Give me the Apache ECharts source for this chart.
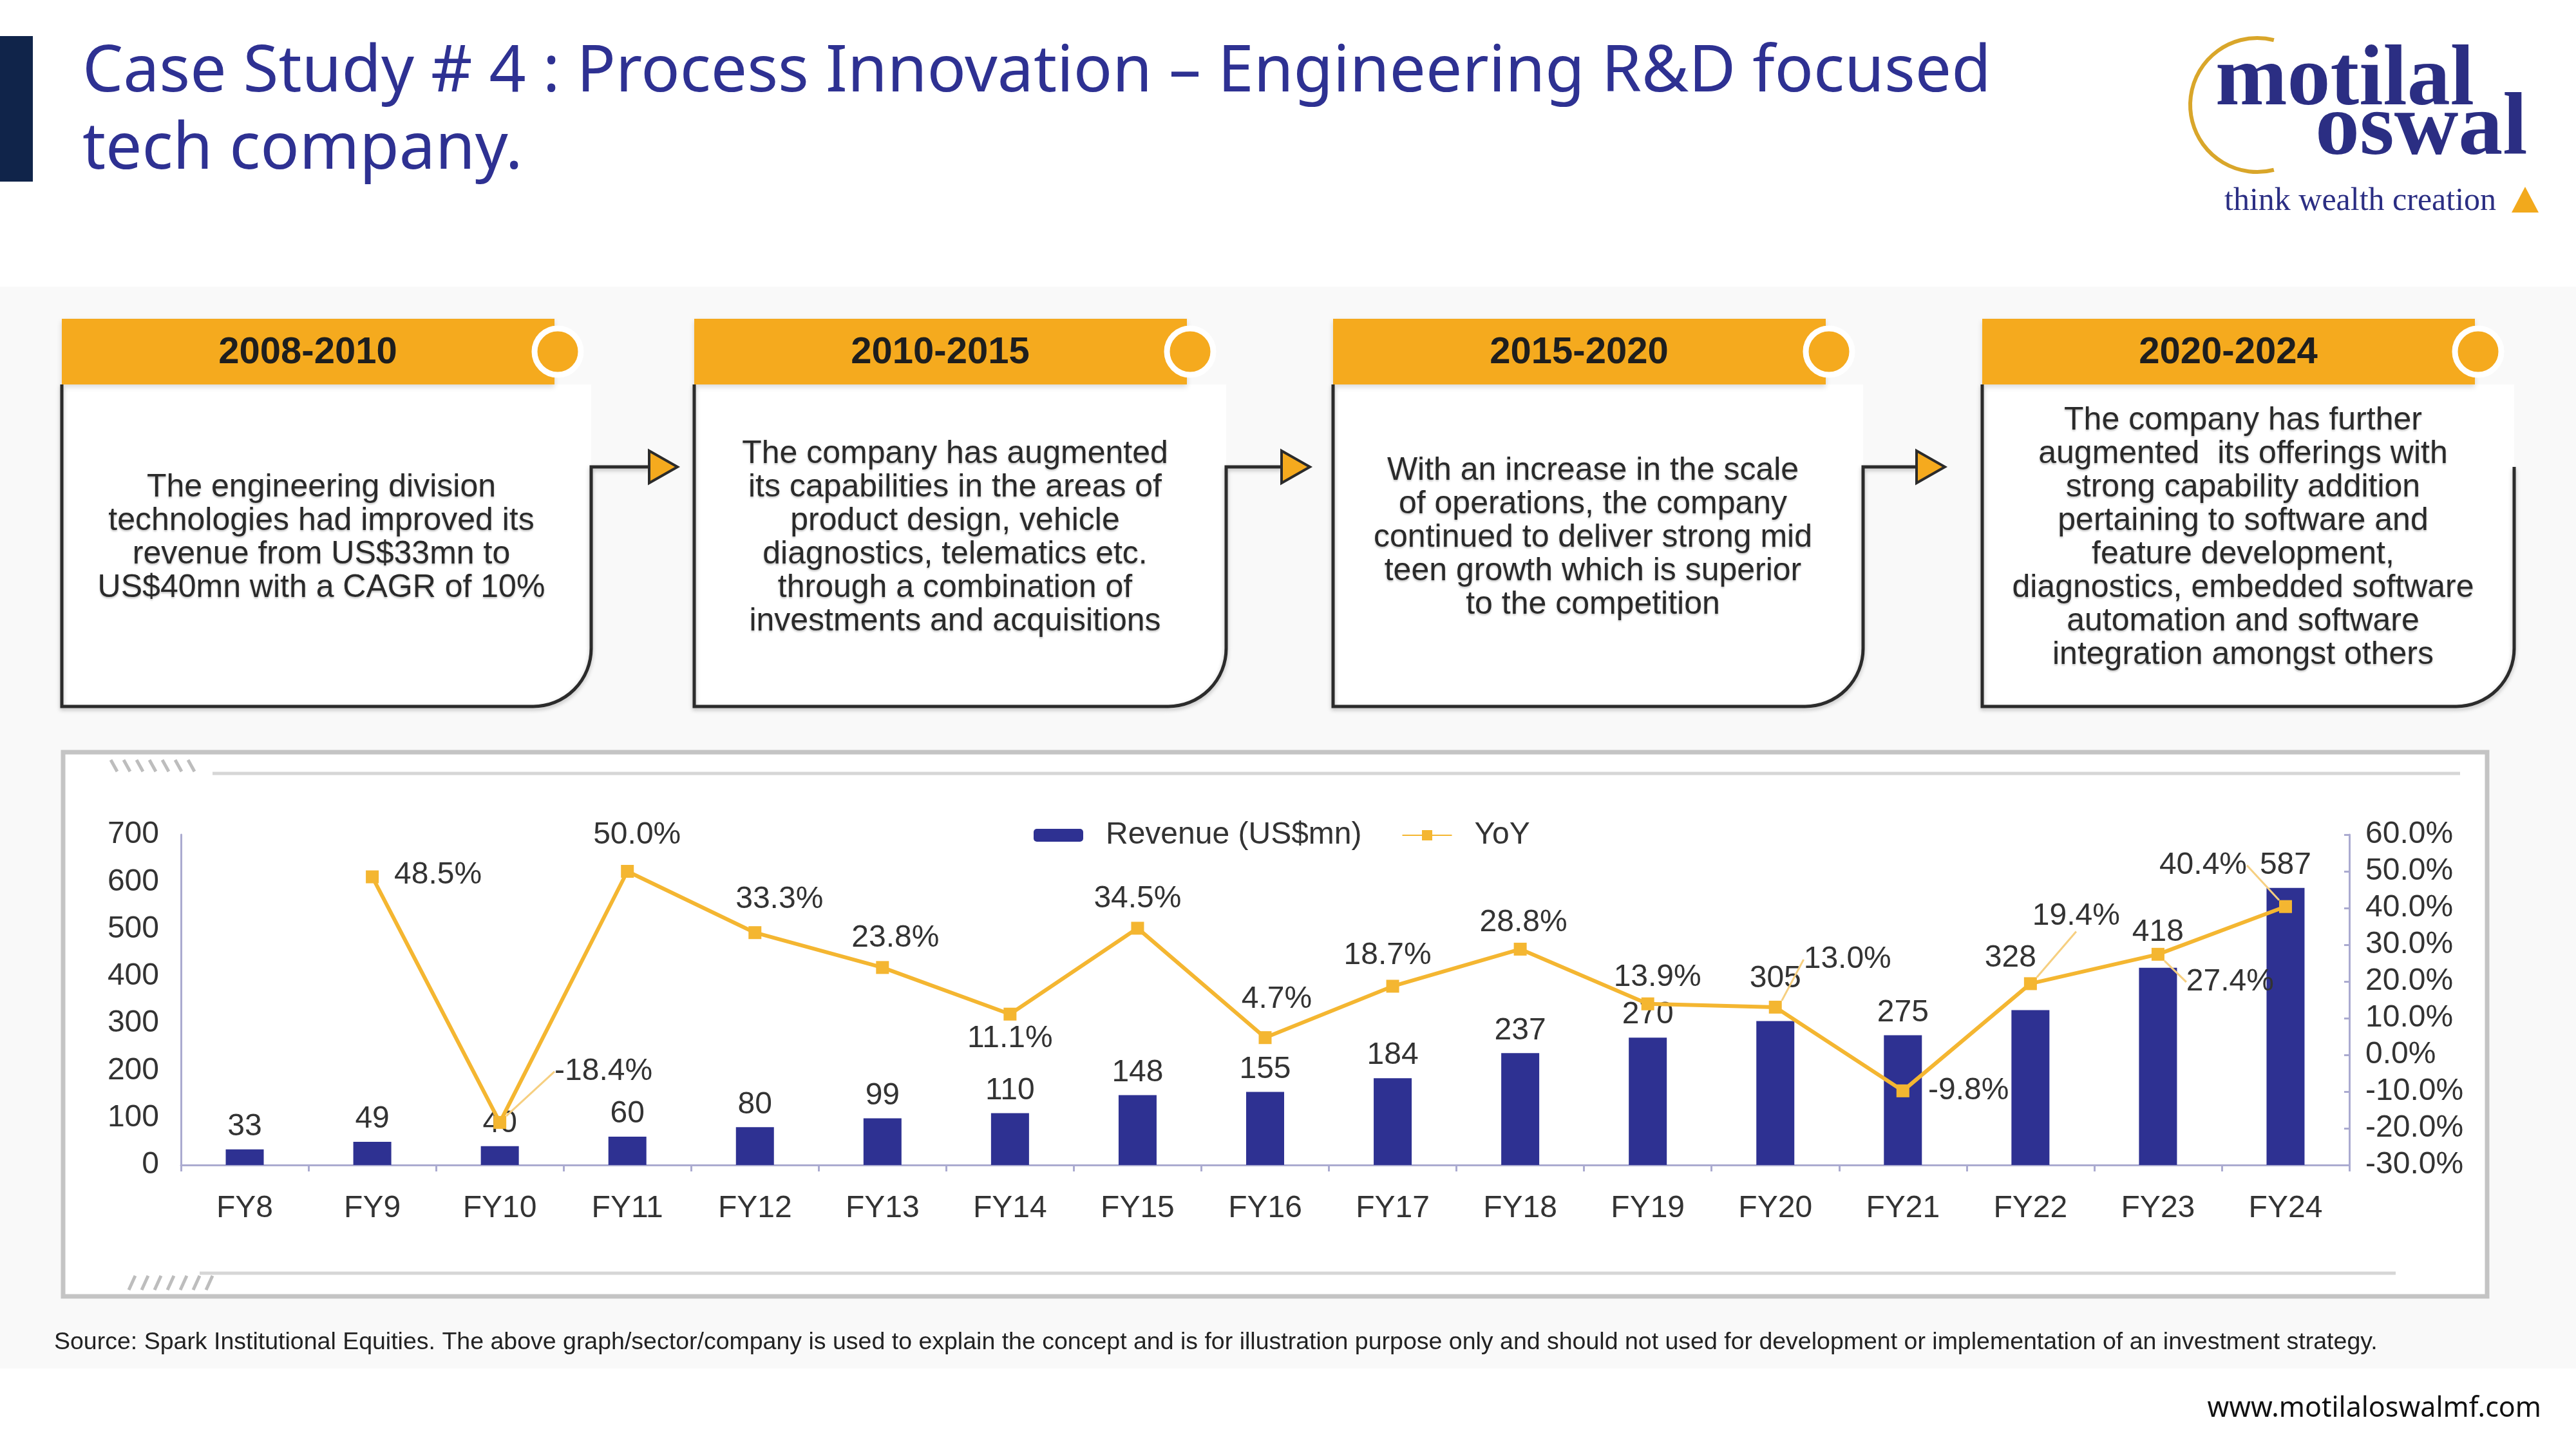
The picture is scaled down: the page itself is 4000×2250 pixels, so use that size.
<!DOCTYPE html>
<html>
<head>
<meta charset="utf-8">
<script src="https://cdn.jsdelivr.net/npm/echarts@6/dist/echarts.min.js"></script>
<style>
  html, body { margin: 0; padding: 0; background: #fff; }
  #main { width: 4000px; height: 2250px; }
</style>
</head>
<body>
<div id="main"></div>
<script>
// ---- data ----
var years = ['FY8', 'FY9', 'FY10', 'FY11', 'FY12', 'FY13', 'FY14', 'FY15', 'FY16',
             'FY17', 'FY18', 'FY19', 'FY20', 'FY21', 'FY22', 'FY23', 'FY24'];
var revenue = [33, 49, 40, 60, 80, 99, 110, 148, 155, 184, 237, 270, 305, 275, 328, 418, 587];
var yoy = [null, 48.5, -18.4, 50.0, 33.3, 23.8, 11.1, 34.5, 4.7, 18.7, 28.8, 13.9, 13.0, -9.8, 19.4, 27.4, 40.4];
var seriesNames = ['Revenue (US$mn)', 'YoY'];

var periods = ['2008-2010', '2010-2015', '2015-2020', '2020-2024'];
var notes = [
  'The engineering division\ntechnologies had improved its\nrevenue from US$33mn to\nUS$40mn with a CAGR of 10%',
  'The company has augmented\nits capabilities in the areas of\nproduct design, vehicle\ndiagnostics, telematics etc.\nthrough a combination of\ninvestments and acquisitions',
  'With an increase in the scale\nof operations, the company\ncontinued to deliver strong mid\nteen growth which is superior\nto the competition',
  'The company has further\naugmented  its offerings with\nstrong capability addition\npertaining to software and\nfeature development,\ndiagnostics, embedded software\nautomation and software\nintegration amongst others'
];

var titleLines = ['Case Study # 4 : Process Innovation \u2013 Engineering R&D focused', 'tech company.'];
var sourceNote = 'Source: Spark Institutional Equities. The above graph/sector/company is used to explain the concept and is for illustration purpose only and should not used for development or implementation of an investment strategy.';
var website = 'www.motilaloswalmf.com';

// ---- layout (label nudges, box positions) ----
var yoyLabelShift = [null, [102, -3], [161, -79], [15, -56], [38, -51], [20, -46], [0, 38], [0, -46],
  [18, -59], [-8, -48], [5, -41], [15, -41], [112, -74], [102, 0], [71, -105], [112, 43], [-128, -64]];
var yoyLeader = [2, 12, 14, 15, 16];
var barLabelShift = {12: [0, -31], 14: [-31, -46], 15: [0, -20]};

var boxLeft = [96, 1078, 2070, 3078];
var boxRight = [918, 1904, 2893, 3904];
var arrowX = [1008, 1990, 2976, null];

var GOLD = '#F5AA1E';
var NAVY = '#2E3192';
var LINE = '#F4B631';
var AXIS = '#ABABD0';
var FONT = '"Liberation Sans", Arial, sans-serif';

var g = [];
// light background band
g.push({ type: 'rect', shape: { x: 0, y: 445, width: 4000, height: 1680 }, style: { fill: '#F9F9F9' }, z: -10 });
// title bar + title
g.push({ type: 'rect', shape: { x: 0, y: 56, width: 51, height: 226 }, style: { fill: '#10244A' } });
titleLines.forEach(function (t, i) {
  g.push({ type: 'text', x: 128, y: 114 + i * 120,
    style: { text: t, fill: NAVY, font: '100px "Noto Sans", sans-serif', verticalAlign: 'middle' } });
});
// logo
g.push({ type: 'arc', shape: { cx: 3505, cy: 163, r: 104, startAngle: Math.PI * 0.42, endAngle: Math.PI * 1.58 },
  style: { stroke: '#D9A62A', lineWidth: 6, fill: null } });
g.push({ type: 'text', x: 3440, y: 194, style: { text: 'motilal', fill: '#2B2E83',
  font: 'bold 134px "Liberation Serif", serif', verticalAlign: 'bottom' } });
g.push({ type: 'text', x: 3595, y: 272, style: { text: 'oswal', fill: '#2B2E83',
  font: 'bold 138px "Liberation Serif", serif', verticalAlign: 'bottom' } });
g.push({ type: 'text', x: 3454, y: 313, style: { text: 'think wealth creation', fill: '#2B2E83',
  font: '50px "Liberation Serif", serif', verticalAlign: 'middle' } });
g.push({ type: 'polygon', shape: { points: [[3900, 330], [3921, 290], [3942, 330]] }, style: { fill: '#F2A91C' } });

// timeline boxes
var edge = { stroke: '#2B2B2B', lineWidth: 5, fill: null,
  shadowColor: 'rgba(0,0,0,0.25)', shadowBlur: 6, shadowOffsetY: 3 };
periods.forEach(function (p, i) {
  var L = boxLeft[i], R = boxRight[i], A = arrowX[i];
  g.push({ type: 'rect', shape: { x: L, y: 597, width: R - L, height: 500, r: [0, 0, 90, 0] }, style: { fill: '#FFFFFF' } });
  g.push({ type: 'polyline', shape: { points: [[L, 597], [L, 1097], [R - 90, 1097]] }, style: edge });
  g.push({ type: 'arc', shape: { cx: R - 90, cy: 1007, r: 90, startAngle: 0, endAngle: Math.PI / 2 }, style: edge });
  var pts = [[R, 1007], [R, 725]];
  if (A) pts.push([A, 725]);
  g.push({ type: 'polyline', shape: { points: pts }, style: edge });
  if (A) {
    g.push({ type: 'polygon', shape: { points: [[A, 700], [A + 44, 725], [A, 750]] },
      style: { fill: GOLD, stroke: '#2B2B2B', lineWidth: 4 } });
  }
  g.push({ type: 'rect', shape: { x: L, y: 495, width: 765, height: 102 }, style: { fill: GOLD,
    shadowColor: 'rgba(0,0,0,0.15)', shadowBlur: 8, shadowOffsetY: 4 } });
  g.push({ type: 'circle', shape: { cx: L + 770, cy: 546, r: 36 }, style: { fill: GOLD, stroke: '#FFFFFF', lineWidth: 9 } });
  g.push({ type: 'text', x: L + 382, y: 548, style: { text: p, fill: '#1E1E1E',
    font: 'bold 58px ' + FONT, align: 'center', verticalAlign: 'middle' } });
  g.push({ type: 'text', x: (L + R) / 2 - 8, y: 835, style: { text: notes[i], fill: '#2A2A2A',
    font: '50px ' + FONT, lineHeight: 52, align: 'center', verticalAlign: 'middle',
    textShadowColor: 'rgba(0,0,0,0.25)', textShadowBlur: 3, textShadowOffsetY: 2 } });
});

// chart panel frame
g.push({ type: 'rect', shape: { x: 98, y: 1168, width: 3764, height: 845 },
  style: { fill: '#FFFFFF', stroke: '#C4C4C4', lineWidth: 7 }, z: -5 });
g.push({ type: 'line', shape: { x1: 330, y1: 1201, x2: 3820, y2: 1201 }, style: { stroke: '#D6D6D6', lineWidth: 5 }, z: -5 });
g.push({ type: 'line', shape: { x1: 310, y1: 1977, x2: 3720, y2: 1977 }, style: { stroke: '#D6D6D6', lineWidth: 5 }, z: -5 });
for (var k = 0; k < 7; k++) {
  g.push({ type: 'line', shape: { x1: 182 + k * 20, y1: 1198, x2: 172 + k * 20, y2: 1180 }, style: { stroke: '#BDBDBD', lineWidth: 5 }, z: -5 });
  g.push({ type: 'line', shape: { x1: 200 + k * 20, y1: 2003, x2: 210 + k * 20, y2: 1981 }, style: { stroke: '#BDBDBD', lineWidth: 5 }, z: -5 });
}

// footer
g.push({ type: 'text', x: 84, y: 2085, style: { text: sourceNote, fill: '#222', font: '37.5px ' + FONT, verticalAlign: 'middle' } });
g.push({ type: 'text', x: 3946, y: 2188, style: { text: website, fill: '#111', font: '43px "Noto Sans", sans-serif',
  align: 'right', verticalAlign: 'middle' } });

// ---- chart ----
var chart = echarts.init(document.getElementById('main'));

var yoyData = yoy.map(function (v, i) {
  return { value: v, labelLine: { show: yoyLeader.indexOf(i) >= 0 } };
});

var option = {
  backgroundColor: '#FFFFFF',
  animation: false,
  textStyle: { fontFamily: FONT },
  graphic: { elements: g },
  legend: {
    data: seriesNames,
    left: 1600,
    top: 1268,
    itemWidth: 77,
    itemHeight: 20,
    itemGap: 62,
    textStyle: { color: '#333', fontSize: 48, fontFamily: FONT, padding: [0, 0, 0, 30] }
  },
  grid: { left: 281, right: 352, top: 1296, bottom: 441 },
  xAxis: {
    type: 'category',
    data: years,
    axisLine: { lineStyle: { color: AXIS, width: 3 } },
    axisTick: { show: true, length: 10, lineStyle: { color: AXIS, width: 3 } },
    axisLabel: { color: '#333', fontSize: 48, margin: 44 }
  },
  yAxis: [{
    type: 'value', min: 0, max: 700, interval: 100,
    axisLine: { show: true, lineStyle: { color: AXIS, width: 3 } },
    axisTick: { show: false },
    splitLine: { show: false },
    axisLabel: { color: '#333', fontSize: 48, margin: 34 }
  }, {
    type: 'value', min: -30, max: 60, interval: 10, position: 'right',
    axisLine: { show: true, lineStyle: { color: AXIS, width: 3 } },
    axisTick: { show: true, inside: true, length: 8, lineStyle: { color: AXIS, width: 3 } },
    splitLine: { show: false },
    axisLabel: { color: '#333', fontSize: 48, margin: 25,
      formatter: function (v) { return v.toFixed(1) + '%'; } }
  }],
  series: [{
    name: seriesNames[0],
    type: 'bar',
    data: revenue,
    barWidth: 59,
    itemStyle: { color: NAVY },
    label: { show: true, position: 'top', distance: 11, color: '#333', fontSize: 48 },
    labelLayout: function (p) {
      var s = barLabelShift[p.dataIndex];
      return s ? { dx: s[0], dy: s[1] } : {};
    }
  }, {
    name: seriesNames[1],
    type: 'line',
    yAxisIndex: 1,
    data: yoyData,
    symbol: 'rect',
    symbolSize: 20,
    lineStyle: { color: LINE, width: 6 },
    itemStyle: { color: LINE },
    z: 5,
    label: { show: true, position: 'inside', color: '#333', fontSize: 48,
      formatter: function (p) { return p.value == null ? '' : p.value.toFixed(1) + '%'; } },
    labelLine: { show: false, lineStyle: { color: '#F6CF80', width: 3 } },
    labelLayout: function (p) {
      var s = yoyLabelShift[p.dataIndex];
      return s ? { dx: s[0], dy: s[1] } : {};
    }
  }]
};
chart.setOption(option);
</script>
</body>
</html>
